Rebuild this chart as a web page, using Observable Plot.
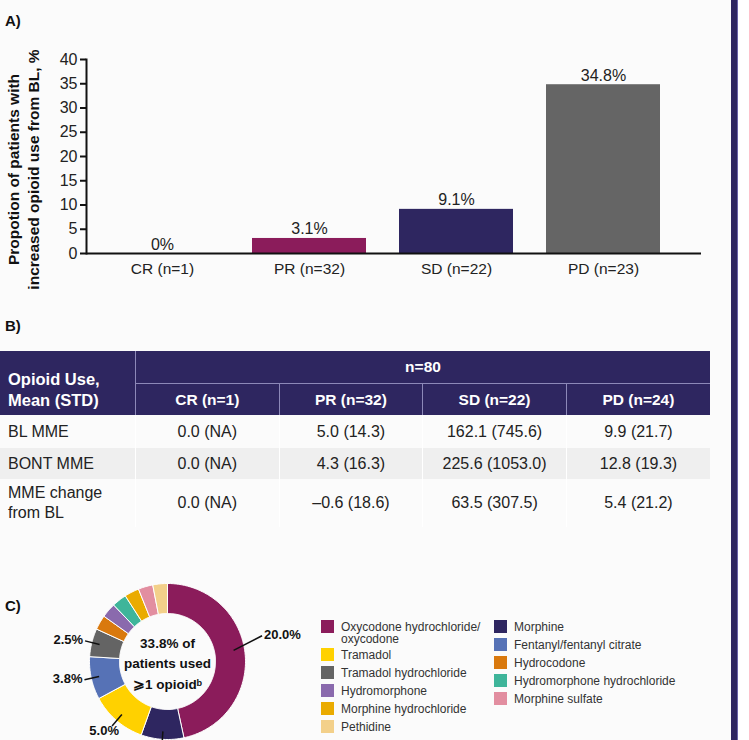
<!DOCTYPE html>
<html>
<head>
<meta charset="utf-8">
<script src="https://cdn.jsdelivr.net/npm/d3@7"></script>
<script src="https://cdn.jsdelivr.net/npm/@observablehq/plot@0.6"></script>
<style>
  html, body { margin: 0; padding: 0; }
  body { width: 749px; height: 740px; overflow: hidden; background: #ffffff; position: relative;
         font-family: "Liberation Sans", Arial, Helvetica, sans-serif; color: #222; }
  #page { position: absolute; left: 0; top: 0; width: 731px; height: 740px; background: #fbfbfb; }
  #band { position: absolute; left: 731px; top: 0; width: 6px; height: 740px; background: #2e2660; border-right: 1px solid #6a63a8; }
  .panel-label { position: absolute; left: 5px; font-weight: bold; font-size: 15px; color: #111; }
  #chartA { position: absolute; left: 0; top: 0; }
  #tableB { position: absolute; left: 0; top: 351px; width: 710px; border-collapse: collapse; table-layout: fixed; }
  #tableB th { background: #2e2660; color: #fff; font-weight: bold; font-size: 15.5px; text-align: center; padding: 0; }
  #tableB th.hdr { text-align: left; font-size: 16.5px; line-height: 21px; padding: 0 0 4px 8px; vertical-align: bottom; border-right: 1px solid #8c88b8; }
  #tableB tr.r1 th { height: 32px; }
  #tableB tr.r2 th { height: 31px; border-top: 1px solid #8c88b8; }
  #tableB tr.r2 th + th { border-left: 1px solid #8c88b8; }
  #tableB td { font-size: 16px; text-align: center; color: #222; padding: 0; border-left: 1px solid #fff; }
  #tableB td.lab { text-align: left; padding-left: 8px; border-left: none; line-height: 20px; }
  #tableB tr.shade td { background: #efefef; }
  #chartC { position: absolute; left: 0; top: 560px; }
  .legcol { position: absolute; top: 620px; }
  .legitem { display: flex; align-items: flex-start; margin-bottom: 5px; }
  .sw { width: 13px; height: 13px; flex: none; margin-right: 7px; }
  .legtxt { font-size: 12px; line-height: 12px; color: #333; padding-top: 1px; }
  .legitem.two { margin-bottom: 3px; }
</style>
</head>
<body>
<div id="page"></div>
<div id="band"></div>
<div class="panel-label" style="top:12px">A)</div>
<div class="panel-label" style="top:317px">B)</div>
<div class="panel-label" style="top:597px">C)</div>
<div id="chartA"></div>
<table id="tableB"></table>
<div id="chartC"></div>
<div id="legend"></div>
<script>
const FONT = '"Liberation Sans", Arial, Helvetica, sans-serif';

// ---------- Panel A data ----------
const responseGroups = ["CR (n=1)", "PR (n=32)", "SD (n=22)", "PD (n=23)"];
const increasedOpioidPct = [0, 3.1, 9.1, 34.8];
const valueLabels = ["0%", "3.1%", "9.1%", "34.8%"];
const groupColors = ["#8b1c5b", "#8b1c5b", "#2e2660", "#656565"];
const yTicks = [0, 5, 10, 15, 20, 25, 30, 35, 40];
const yLabel = "Propotion of patients with\nincreased opioid use from BL, %";

// ---------- Panel B data ----------
const tableGroups = ["CR (n=1)", "PR (n=32)", "SD (n=22)", "PD (n=24)"];
const tableTotal = "n=80";
const rowLabels = ["BL MME", "BONT MME", "MME change<br>from BL"];
const blMean = [0.0, 5.0, 162.1, 9.9];
const blSD = [null, 14.3, 745.6, 21.7];
const bontMean = [0.0, 4.3, 225.6, 12.8];
const bontSD = [null, 16.3, 1053.0, 19.3];
const changeMean = [0.0, -0.6, 63.5, 5.4];
const changeSD = [null, 18.6, 307.5, 21.2];

// ---------- Panel C data ----------
const drugNames = ["Oxycodone hydrochloride/\noxycodone", "Morphine", "Tramadol", "Fentanyl/fentanyl citrate",
  "Tramadol hydrochloride", "Hydrocodone", "Hydromorphone", "Hydromorphone hydrochloride",
  "Morphine hydrochloride", "Morphine sulfate", "Pethidine"];
const drugPct = [20.0, 3.8, 5.0, 3.8, 2.5, 1.3, 1.3, 1.3, 1.3, 1.3, 1.3];
const drugLabelShown = [true, true, true, true, true, false, false, false, false, false, false];
const drugColors = ["#8b1c5b", "#2e2660", "#ffd100", "#5672b6", "#646464", "#d9790e", "#8a6aad",
  "#3fb59a", "#eaab00", "#e28ea0", "#f3d08a"];
const centerText = "33.8% of\npatients used\n⩾1 opioidᵇ";

// ================= Panel A =================
const barData = responseGroups.map((g, i) => ({group: g, value: increasedOpioidPct[i], label: valueLabels[i]}));
const chartA = Plot.plot({
  width: 710, height: 300,
  marginLeft: 86, marginRight: 9, marginTop: 59, marginBottom: 47,
  style: {fontFamily: FONT, fontSize: "16px", color: "#222", background: "transparent", overflow: "visible"},
  x: {domain: responseGroups, range: [86, 679], paddingInner: 0.223, paddingOuter: 0.115, label: null},
  y: {domain: [0, 40], label: null},
  color: {domain: responseGroups, range: groupColors},
  marks: [
    Plot.barY(barData, {x: "group", y: "value", fill: "group"}),
    Plot.text(barData, {x: "group", y: "value", text: "label", lineAnchor: "bottom", dy: -4, fontSize: 16, fill: "#222"}),
    Plot.axisY({ticks: yTicks, tickSize: 6, tickPadding: 3, strokeWidth: 2, label: null, fontSize: 16, stroke: "#111", fill: "#222"}),
    Plot.axisX({tickSize: 0, tickPadding: 9, label: null, fontSize: 15.5, fill: "#222"}),
    Plot.ruleY([0], {strokeWidth: 2, stroke: "#111"}),
    Plot.frame({anchor: "left", strokeWidth: 2, stroke: "#111"}),
    Plot.text([yLabel], {frameAnchor: "left", textAnchor: "middle", lineAnchor: "middle", rotate: -90, dx: -64, dy: 13,
      fontWeight: "bold", fontSize: 15.5, lineHeight: 1.3, fill: "#111"})
  ]
});
document.getElementById("chartA").appendChild(chartA);

// ================= Panel B =================
const fmt = (m, s) => (m < 0 ? "\u2013" + Math.abs(m).toFixed(1) : m.toFixed(1)) + " (" + (s == null ? "NA" : s.toFixed(1)) + ")";
const rowsB = [[blMean, blSD], [bontMean, bontSD], [changeMean, changeSD]];
const rowHeights = [33, 31, 48];
let html = `<tr class="r1"><th class="hdr" rowspan="2" style="width:127px">Opioid Use,<br>Mean (STD)</th><th colspan="${tableGroups.length}">${tableTotal}</th></tr>`;
html += `<tr class="r2">` + tableGroups.map(g => `<th>${g}</th>`).join("") + `</tr>`;
rowsB.forEach(([m, s], i) => {
  html += `<tr class="${i === 1 ? "shade" : ""}" style="height:${rowHeights[i]}px"><td class="lab">${rowLabels[i]}</td>` +
    m.map((v, j) => `<td>${fmt(v, s[j])}</td>`).join("") + `</tr>`;
});
document.getElementById("tableB").innerHTML = html;

// ================= Panel C =================
const C_W = 320, C_H = 180, C_CX = 167, C_CY = 101;
const pie = d3.pie().sort(null).value(d => d.pct)(drugNames.map((n, i) => ({name: n, pct: drugPct[i], shown: drugLabelShown[i]})));
const R_OUT = 78, R_IN = 48;
const polar = (a, r) => ({x: r * Math.sin(a), y: r * Math.cos(a)});
const ringPts = [];
pie.forEach(p => {
  const steps = Math.max(2, Math.ceil((p.endAngle - p.startAngle) / 0.02));
  for (let k = 0; k <= steps; k++) ringPts.push({name: p.data.name, ...polar(p.startAngle + (p.endAngle - p.startAngle) * k / steps, R_OUT)});
  for (let k = steps; k >= 0; k--) ringPts.push({name: p.data.name, ...polar(p.startAngle + (p.endAngle - p.startAngle) * k / steps, R_IN)});
  ringPts.push({name: p.data.name, ...polar(p.startAngle, R_OUT)});
});
const labelRules = {"Oxycodone hydrochloride/\noxycodone": {shift: -0.16, r1: 67, r2: 98}};
const leaders = pie.filter(p => p.data.shown).map(p => {
  const rule = labelRules[p.data.name] || {shift: 0, r1: 70, r2: 85};
  const mid = (p.startAngle + p.endAngle) / 2;
  const a2 = mid + rule.shift;
  const s = polar(mid - 0.06 * (rule.shift !== 0), rule.r1), e = polar(a2, rule.r2);
  const sin = Math.sin(a2);
  let anchor = sin > 0.3 ? "start" : (sin < -0.85 ? "end" : "middle");
  let t;
  if (anchor === "middle") { t = polar(a2, rule.r2 + 6); t.x -= 4; }
  else t = {x: e.x + (anchor === "start" ? 2 : -2), y: e.y + 1};
  return {x1: s.x, y1: s.y, x2: e.x, y2: e.y, tx: t.x, ty: t.y, anchor, label: p.data.pct.toFixed(1) + "%"};
});
// the panel is cropped at the page bottom, as in the original: only labels that fall inside are drawn
const visibleLabels = leaders.filter(d => C_CY - d.ty < C_H - 4);
const chartC = Plot.plot({
  width: C_W, height: C_H, margin: 0,
  style: {fontFamily: FONT, background: "transparent", overflow: "visible"},
  x: {domain: [-C_CX, C_W - C_CX], range: [0, C_W], axis: null},
  y: {domain: [C_CY, C_CY - C_H], range: [0, C_H], axis: null},
  color: {domain: drugNames, range: drugColors},
  marks: [
    Plot.line(ringPts, {x: "x", y: "y", z: "name", fill: "name", stroke: "#fff", strokeWidth: 1, curve: "linear"}),
    Plot.link(leaders, {x1: "x1", y1: "y1", x2: "x2", y2: "y2", stroke: "#111", strokeWidth: 1.5}),
    Plot.text(visibleLabels.filter(d => d.anchor === "start"), {x: "tx", y: "ty", text: "label", textAnchor: "start", fontWeight: "bold", fontSize: 13, fill: "#111"}),
    Plot.text(visibleLabels.filter(d => d.anchor === "end"), {x: "tx", y: "ty", text: "label", textAnchor: "end", fontWeight: "bold", fontSize: 13, fill: "#111"}),
    Plot.text(visibleLabels.filter(d => d.anchor === "middle"), {x: "tx", y: "ty", text: "label", textAnchor: "middle", fontWeight: "bold", fontSize: 13, fill: "#111"}),
    Plot.text([centerText], {x: () => 0, y: () => 0, text: d => d, fontWeight: "bold", fontSize: 13.5, lineHeight: 1.52, fill: "#111"})
  ]
});
document.getElementById("chartC").appendChild(chartC);

// Legend (two columns, items alternate)
const legend = document.getElementById("legend");
[321, 494].forEach((left, c) => {
  const col = document.createElement("div");
  col.className = "legcol";
  col.style.left = left + "px";
  drugNames.forEach((n, i) => {
    if (i % 2 !== c) return;
    const it = document.createElement("div");
    it.className = "legitem" + (n.includes("\n") ? " two" : "");
    it.innerHTML = `<div class="sw" style="background:${drugColors[i]}"></div><div class="legtxt">${n.replace("\n", "<br>")}</div>`;
    col.appendChild(it);
  });
  legend.appendChild(col);
});
</script>
</body>
</html>
